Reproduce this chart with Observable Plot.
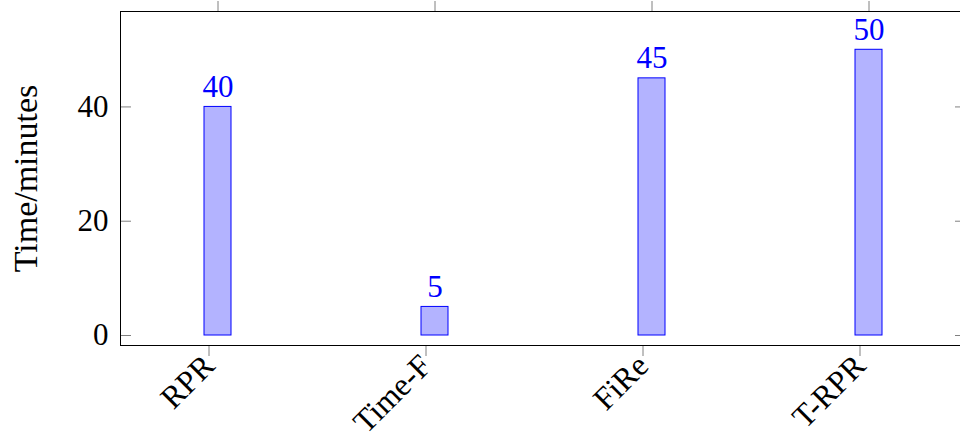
<!DOCTYPE html>
<html><head><meta charset="utf-8">
<script src="https://cdn.jsdelivr.net/npm/d3@7"></script>
<script src="https://cdn.jsdelivr.net/npm/@observablehq/plot@0.6"></script>
<style>html,body{margin:0;padding:0;background:#fff;overflow:hidden;width:960px;height:443px}#chart{width:960px;height:443px;overflow:hidden}</style>
</head><body><div id="chart"></div>
<script>
const methods = ["RPR", "Time-F", "FiRe", "T-RPR"];
const minutes = [40, 5, 45, 50];
const yTicks = [0, 20, 40];
const yLabel = "Time/minutes";
const data = methods.map((m, i) => ({method: m, minutes: minutes[i]}));

const W = 980, H = 443, mL = 120, mR = 14, mT = 11, mB = 98;
const plotW = W - mL - mR;
const serif = "'Liberation Serif', 'DejaVu Serif', serif";
const chart = Plot.plot({
  width: W, height: H, marginLeft: mL, marginRight: mR, marginTop: mT, marginBottom: mB,
  style: {fontFamily: serif, fontSize: "31px", background: "#fff", color: "#000", overflow: "visible", maxWidth: "none"},
  x: {type: "band", domain: methods, paddingInner: 0.876, paddingOuter: 0.387, align: 0.5},
  y: {domain: [-1.75, 56.7]},
  marks: [
    Plot.barY(data, {x: "method", y: "minutes", fill: "#b3b3ff", stroke: "#0000ff", strokeWidth: 1}),
    Plot.text(data, {x: "method", y: "minutes", text: d => String(d.minutes), fill: "#0000ff", lineAnchor: "bottom", dy: -10, fontSize: 31}),
    Plot.tickY(yTicks, {y: d => d, stroke: "#808080", insetRight: plotW - 11}),
    Plot.tickY(yTicks, {y: d => d, stroke: "#808080", insetLeft: plotW - 11}),
    Plot.axisY(yTicks, {tickSize: 0, tickPadding: 12, label: null, fontSize: 31}),
    Plot.axisY({tickSize: 0, ticks: [], label: yLabel, labelAnchor: "center", labelOffset: 108, labelArrow: "none", fontSize: 34}),
    Plot.axisX({anchor: "bottom", tickSize: 11, stroke: "#808080", tickRotate: -45, tickPadding: 4, dx: -9, dy: 0, label: null, fontSize: 32}),
    Plot.axisX({anchor: "top", tickSize: 11, stroke: "#808080", tickFormat: () => "", label: null}),
    Plot.frame({stroke: "#000", strokeWidth: 1})
  ]
});
document.getElementById("chart").appendChild(chart);
</script>
</body></html>
